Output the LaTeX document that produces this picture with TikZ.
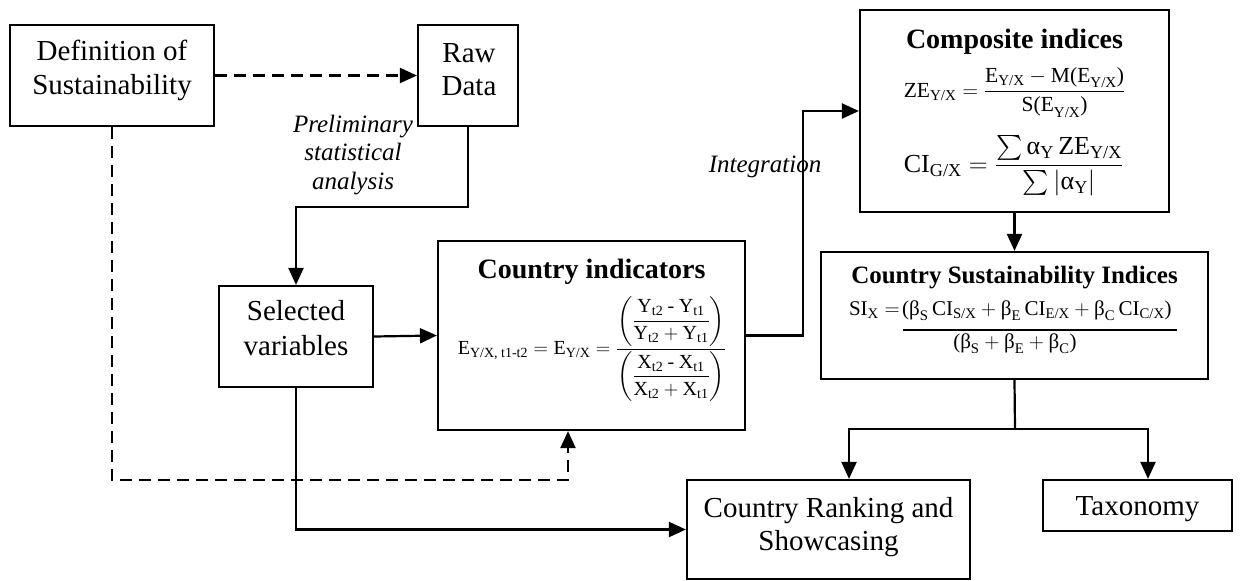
\documentclass[tikz,border=0pt]{standalone}
\usepackage{fix-cm}
\usepackage{amsmath}
\usepackage{fontspec}
\setmainfont{Liberation Serif}
\usetikzlibrary{arrows.meta}
\newcommand{\tx}[1]{\text{#1}}
\newcommand{\hy}{\mathbin{\text{-}}}
\begin{document}
\begin{tikzpicture}[x=1pt,y=-1pt,
  box/.style={draw, line width=2.2pt, inner sep=0pt},
  txt/.style={font=\fontsize{29}{33.5}\selectfont, inner sep=0pt, anchor=base},
  lab/.style={font=\fontsize{25}{28.5}\selectfont\itshape, align=center, inner sep=0pt},
  ttl/.style={font=\fontsize{28}{32}\selectfont\bfseries, inner sep=0pt, anchor=base},
  frm/.style={font=\fontsize{20}{24}\selectfont, inner sep=0pt},
  conn/.style={line width=2.2pt, -{Triangle[length=17pt,width=15pt]}},
  dconn/.style={conn, dash pattern=on 12pt off 7pt},
]
\useasboundingbox (0,0) rectangle (1240,581);
% boxes
\node[box, minimum width=204pt, minimum height=101pt] (def) at (112,75.5) {};
\node[box, minimum width=100pt, minimum height=101pt] (raw) at (468,75.5) {};
\node[box, minimum width=154pt, minimum height=101pt] (sel) at (296,336.5) {};
\node[box, minimum width=307pt, minimum height=189pt] (ci) at (591.5,335.5) {};
\node[box, minimum width=309pt, minimum height=202pt] (comp) at (1014.5,111) {};
\node[box, minimum width=387pt, minimum height=127pt] (csi) at (1014.5,315.5) {};
\node[box, minimum width=283pt, minimum height=99pt] (rank) at (828.5,529.5) {};
\node[box, minimum width=189pt, minimum height=51pt] (tax) at (1137.5,505.5) {};
% box texts
\node[txt] (def1) at (112,60) {Definition of};
\node[txt] (def2) at (112,94) {Sustainability};
\node[txt] (raw1) at (469,62) {Raw};
\node[txt] (raw2) at (469,95) {Data};
\node[txt] (sel1) at (296,320) {Selected};
\node[txt] (sel2) at (296,355) {variables};
\node[txt] (rank1) at (828.5,517) {Country Ranking and};
\node[txt] (rank2) at (828.5,550) {Showcasing};
\node[txt] (tax1) at (1137.5,515) {Taxonomy};
% titles
\node[ttl] (cit) at (591.5,278) {Country indicators};
\node[ttl] (compt) at (1014.5,48) {Composite indices};
\node[ttl, font=\fontsize{25}{28}\selectfont\bfseries] (csit) at (1014.5,283) {Country Sustainability Indices};
% formulas
\node[frm] (cif) at (592,349) {$\tx{E}_{\tx{Y/X, t1-t2}} = \tx{E}_{\tx{Y/X}} = \dfrac{\left(\dfrac{\tx{Y}_{\tx{t2}} \hy \tx{Y}_{\tx{t1}}}{\tx{Y}_{\tx{t2}} + \tx{Y}_{\tx{t1}}}\right)}{\left(\dfrac{\tx{X}_{\tx{t2}} \hy \tx{X}_{\tx{t1}}}{\tx{X}_{\tx{t2}} + \tx{X}_{\tx{t1}}}\right)}$};
\node[frm, font=\fontsize{21.5}{25}\selectfont] (cf1) at (1014.5,92.5) {$\tx{ZE}_{\tx{Y/X}} = \dfrac{\tx{E}_{\tx{Y/X}} - \tx{M(E}_{\tx{Y/X}}\tx{)}}{\tx{S(E}_{\tx{Y/X}}\tx{)}}$};
\node[frm, font=\fontsize{26}{30}\selectfont] (cf2) at (1013.5,166) {$\tx{CI}_{\tx{G/X}} = \dfrac{\sum \tx{α}_{\tx{Y}}\,\tx{ZE}_{\tx{Y/X}}}{\sum\left|\tx{α}_{\tx{Y}}\right|}$};
\node[frm, font=\fontsize{21}{25}\selectfont, anchor=base east] (csil) at (900,315) {$\tx{SI}_{\tx{X}} =$};
\node[frm, font=\fontsize{21}{25}\selectfont, anchor=base west] (csin) at (902,315) {$\tx{(β}_{\tx{S}}\,\tx{CI}_{\tx{S/X}} + \tx{β}_{\tx{E}}\,\tx{CI}_{\tx{E/X}} + \tx{β}_{\tx{C}}\,\tx{CI}_{\tx{C/X}}\tx{)}$};
\draw[line width=2.2pt] (903,330) -- (1177,330);
\node[frm, font=\fontsize{21}{25}\selectfont, anchor=base] (csid) at (1015,348) {$\tx{(β}_{\tx{S}} + \tx{β}_{\tx{E}} + \tx{β}_{\tx{C}}\tx{)}$};
% labels
\node[lab] (prel) at (353,155) {Preliminary\\statistical\\analysis};
\node[lab] (integ) at (765,167) {Integration};
% connectors
\draw[dconn] (def.east) -- (raw.west);
\coordinate (dcorner) at (568,480);
\draw[dconn] (def.south) |- (dcorner) -- (dcorner |- ci.south);
\draw[conn] (raw.south) -- ++(0,80) -| (sel.north);
\draw[conn] (sel.east) -- (ci.west);
\draw[conn] (sel.south) |- (rank.west);
\draw[conn] (ci.east) -- ++(57,0) |- (comp.west);
\draw[conn] (comp.south) -- (csi.north);
\coordinate (split) at (1015,429);
\draw[line width=2.2pt] (csi.south) -- (split);
\draw[conn] (split) -| ([xshift=20.5pt]rank.north);
\draw[conn] (split) -| ([xshift=10.5pt]tax.north);
\end{tikzpicture}
\end{document}
